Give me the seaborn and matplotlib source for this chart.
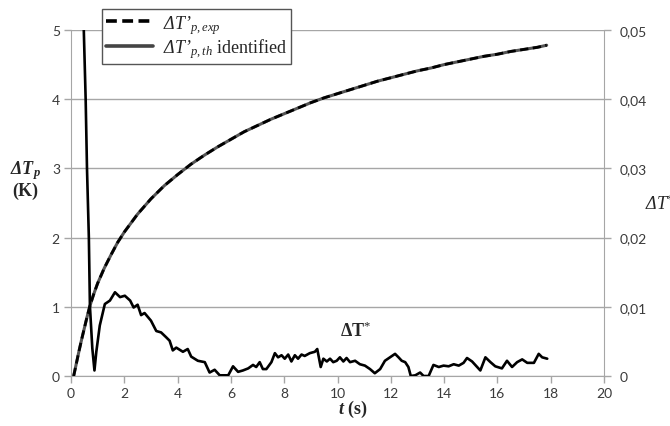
import numpy as np
import pandas as pd
import matplotlib
matplotlib.use("Agg")
import matplotlib.pyplot as plt
import seaborn as sns
from matplotlib.lines import Line2D

# ---- data ----
t_p = [0.1, 0.2, 0.3, 0.4, 0.5, 0.6, 0.7, 0.85, 1.0, 1.25, 1.5, 1.75, 2.0, 2.5, 3.0, 3.5,
       4.0, 4.5, 5.0, 5.5, 6.0, 6.5, 7.0, 7.5, 8.0, 8.5, 9.0, 9.5, 10.0, 10.5, 11.0, 11.5,
       12.0, 12.5, 13.0, 13.5, 14.0, 14.5, 15.0, 15.5, 16.0, 16.5, 17.0, 17.5, 17.85]
dT_p = [0.0, 0.18, 0.36, 0.53, 0.69, 0.85, 1.00, 1.18, 1.34, 1.56, 1.75, 1.93, 2.08, 2.34,
        2.56, 2.75, 2.91, 3.06, 3.19, 3.31, 3.42, 3.53, 3.62, 3.71, 3.79, 3.87, 3.95, 4.02,
        4.08, 4.14, 4.20, 4.26, 4.31, 4.36, 4.41, 4.45, 4.50, 4.54, 4.58, 4.62, 4.65, 4.69,
        4.72, 4.75, 4.78]

t_star = [0.45, 0.48, 0.55, 0.60, 0.67, 0.71, 0.80, 0.88, 0.95, 1.08, 1.27, 1.46, 1.65, 1.84,
          2.02, 2.22, 2.35, 2.50, 2.63, 2.76, 3.00, 3.20, 3.38, 3.57, 3.70, 3.82, 3.95,
          4.20, 4.38, 4.51, 4.76, 5.02, 5.20, 5.39, 5.58, 5.90, 6.08, 6.27, 6.45, 6.65,
          6.83, 6.95, 7.08, 7.20, 7.33, 7.52, 7.65, 7.77, 7.90, 8.02, 8.15, 8.27, 8.40,
          8.52, 8.65, 8.77, 8.96, 9.15, 9.24, 9.37, 9.47, 9.60, 9.72, 9.84, 9.97, 10.09,
          10.22, 10.34, 10.47, 10.66, 10.84, 11.03, 11.22, 11.40, 11.60, 11.78, 11.97,
          12.16, 12.29, 12.41, 12.54, 12.66, 12.75, 12.92, 13.10, 13.23, 13.42, 13.60,
          13.80, 13.98, 14.17, 14.36, 14.55, 14.73, 14.86, 15.05, 15.24, 15.36, 15.55,
          15.74, 15.92, 16.17, 16.36, 16.55, 16.74, 16.93, 17.12, 17.37, 17.55, 17.68, 17.87]
dT_star = [0.062, 0.050, 0.040, 0.030, 0.020, 0.0101, 0.0040, 0.0008, 0.0035, 0.0073, 0.0104,
           0.0109, 0.0121, 0.0114, 0.0116, 0.0109, 0.0099, 0.0103, 0.0088, 0.0091, 0.0080,
           0.0065, 0.0063, 0.0056, 0.0051, 0.0037, 0.0041, 0.0035, 0.0039, 0.0028, 0.0022,
           0.0020, 0.0005, 0.0009, 0.0001, 0.0001, 0.0014, 0.0006, 0.0008, 0.0011, 0.0016,
           0.0013, 0.0020, 0.0010, 0.0010, 0.0020, 0.0033, 0.0027, 0.0030, 0.0025, 0.0031,
           0.0021, 0.0030, 0.0025, 0.0031, 0.0029, 0.0033, 0.0035, 0.0039, 0.0013, 0.0025,
           0.0021, 0.0025, 0.0020, 0.0022, 0.0027, 0.0021, 0.0026, 0.0020, 0.0022, 0.0017,
           0.0015, 0.0010, 0.0004, 0.0010, 0.0022, 0.0027, 0.0032, 0.0027, 0.0022, 0.0020,
           0.0013, 0.0000, 0.0001, 0.0005, 0.0000, 0.0000, 0.0016, 0.0013, 0.0015, 0.0014,
           0.0017, 0.0015, 0.0019, 0.0026, 0.0021, 0.0013, 0.0008, 0.0027, 0.0020, 0.0014,
           0.0011, 0.0022, 0.0013, 0.0020, 0.0024, 0.0019, 0.0019, 0.0032, 0.0027, 0.0025]

x_ticks = [0, 2, 4, 6, 8, 10, 12, 14, 16, 18, 20]
left_ticks = [0, 1, 2, 3, 4, 5]
right_ticks = [0, 0.01, 0.02, 0.03, 0.04, 0.05]
right_ticklabels = ["0", "0,01", "0,02", "0,03", "0,04", "0,05"]

lbl_exp = r"ΔT’$_{p,exp}$"
lbl_th = r"ΔT’$_{p,th}$ $\mathrm{identified}$"

# ---- style ----
sns.set_style("white")
plt.rcParams["font.family"] = ["Lato", "DejaVu Sans"]
plt.rcParams["mathtext.fontset"] = "custom"
plt.rcParams["mathtext.rm"] = "Liberation Serif"
plt.rcParams["mathtext.it"] = "Liberation Serif:italic"
plt.rcParams["mathtext.bf"] = "Liberation Serif:bold"
try:
    plt.rcParams["mathtext.bfit"] = "Liberation Serif:bold:italic"
except Exception:
    pass

GRID = "#a6a6a6"
TICKC = "#3a3a3a"

fig = plt.figure(figsize=(6.7, 4.27), dpi=100)
ax = fig.add_axes([71 / 670, 50 / 427, 533 / 670, 346 / 427])
ax2 = ax.twinx()

dfp = pd.DataFrame({"t": t_p, "v": dT_p})
dfs = pd.DataFrame({"t": t_star, "v": dT_star})

sns.lineplot(data=dfp, x="t", y="v", ax=ax, color="#555555", lw=2.2,
             zorder=3, legend=False)
sns.lineplot(data=dfp, x="t", y="v", ax=ax, color="black", lw=2.0,
             linestyle=(0, (3, 1.6)), zorder=4, legend=False)
sns.lineplot(data=dfs, x="t", y="v", ax=ax2, color="black", lw=1.9,
             zorder=4, legend=False)

ax.set_xlim(0, 20)
ax.set_ylim(0, 5)
ax2.set_ylim(0, 0.05)
ax.set_xticks(x_ticks)
ax.set_xticklabels([str(v) for v in x_ticks])
ax.set_yticks(left_ticks)
ax.set_yticklabels([str(v) for v in left_ticks])
ax2.set_yticks(right_ticks)
ax2.set_yticklabels(right_ticklabels)
ax.set_xlabel("")
ax.set_ylabel("")
ax2.set_ylabel("")

ax.grid(axis="y", color=GRID, lw=1.0)
ax.set_axisbelow(True)

for a in (ax, ax2):
    for s in a.spines.values():
        s.set_visible(False)
ax.spines["left"].set_visible(True)
ax.spines["left"].set_color(GRID)
ax.spines["bottom"].set_visible(True)
ax.spines["bottom"].set_color(GRID)
ax2.spines["right"].set_visible(True)
ax2.spines["right"].set_color(GRID)

ax.tick_params(axis="both", direction="out", length=5, width=1, color=GRID,
               labelsize=10, labelcolor=TICKC, pad=3)
ax.tick_params(axis="y", left=True)
ax.tick_params(axis="x", bottom=True)
ax2.tick_params(axis="y", direction="out", length=5, width=1, color=GRID,
                labelsize=10, labelcolor=TICKC, right=True, pad=6)

# legend
handles = [Line2D([], [], color="black", lw=2.6, linestyle=(0, (3, 1.5))),
           Line2D([], [], color="#444444", lw=2.6)]
leg = fig.legend(handles, [lbl_exp, lbl_th], loc="upper left",
                 bbox_to_anchor=(102 / 670, 1 - 10 / 427), frameon=True,
                 fancybox=False, edgecolor="#555555", framealpha=1,
                 prop={"family": "Liberation Serif", "size": 13, "style": "italic"},
                 handlelength=2.6, handletextpad=0.6, borderpad=0.2,
                 labelspacing=0.05, borderaxespad=0)
leg.get_frame().set_linewidth(1.0)

# axis labels
fig.text(25 / 670, 1 - 171 / 427, r"$\mathbfit{\Delta T}_{\mathbfit{p}}$",
         ha="center", va="center", fontsize=13)
fig.text(25 / 670, 1 - 191 / 427, "(K)", ha="center", va="center",
         fontsize=13, fontweight="bold", family="Liberation Serif")
fig.text(353 / 670, 1 - 409 / 427, r"$\mathbfit{t}$ (s)", ha="center", va="center",
         fontsize=13, fontweight="bold", family="Liberation Serif")
fig.text(645 / 670, 1 - 204 / 427, r"ΔT$^{*}$", ha="left", va="center",
         fontsize=13, family="Liberation Serif", style="italic")
ax.text(10.66, 0.68, r"$\mathbf{\Delta T}^{*}$", ha="center", va="center",
        fontsize=13)

fig.savefig("out.png", dpi=100)
